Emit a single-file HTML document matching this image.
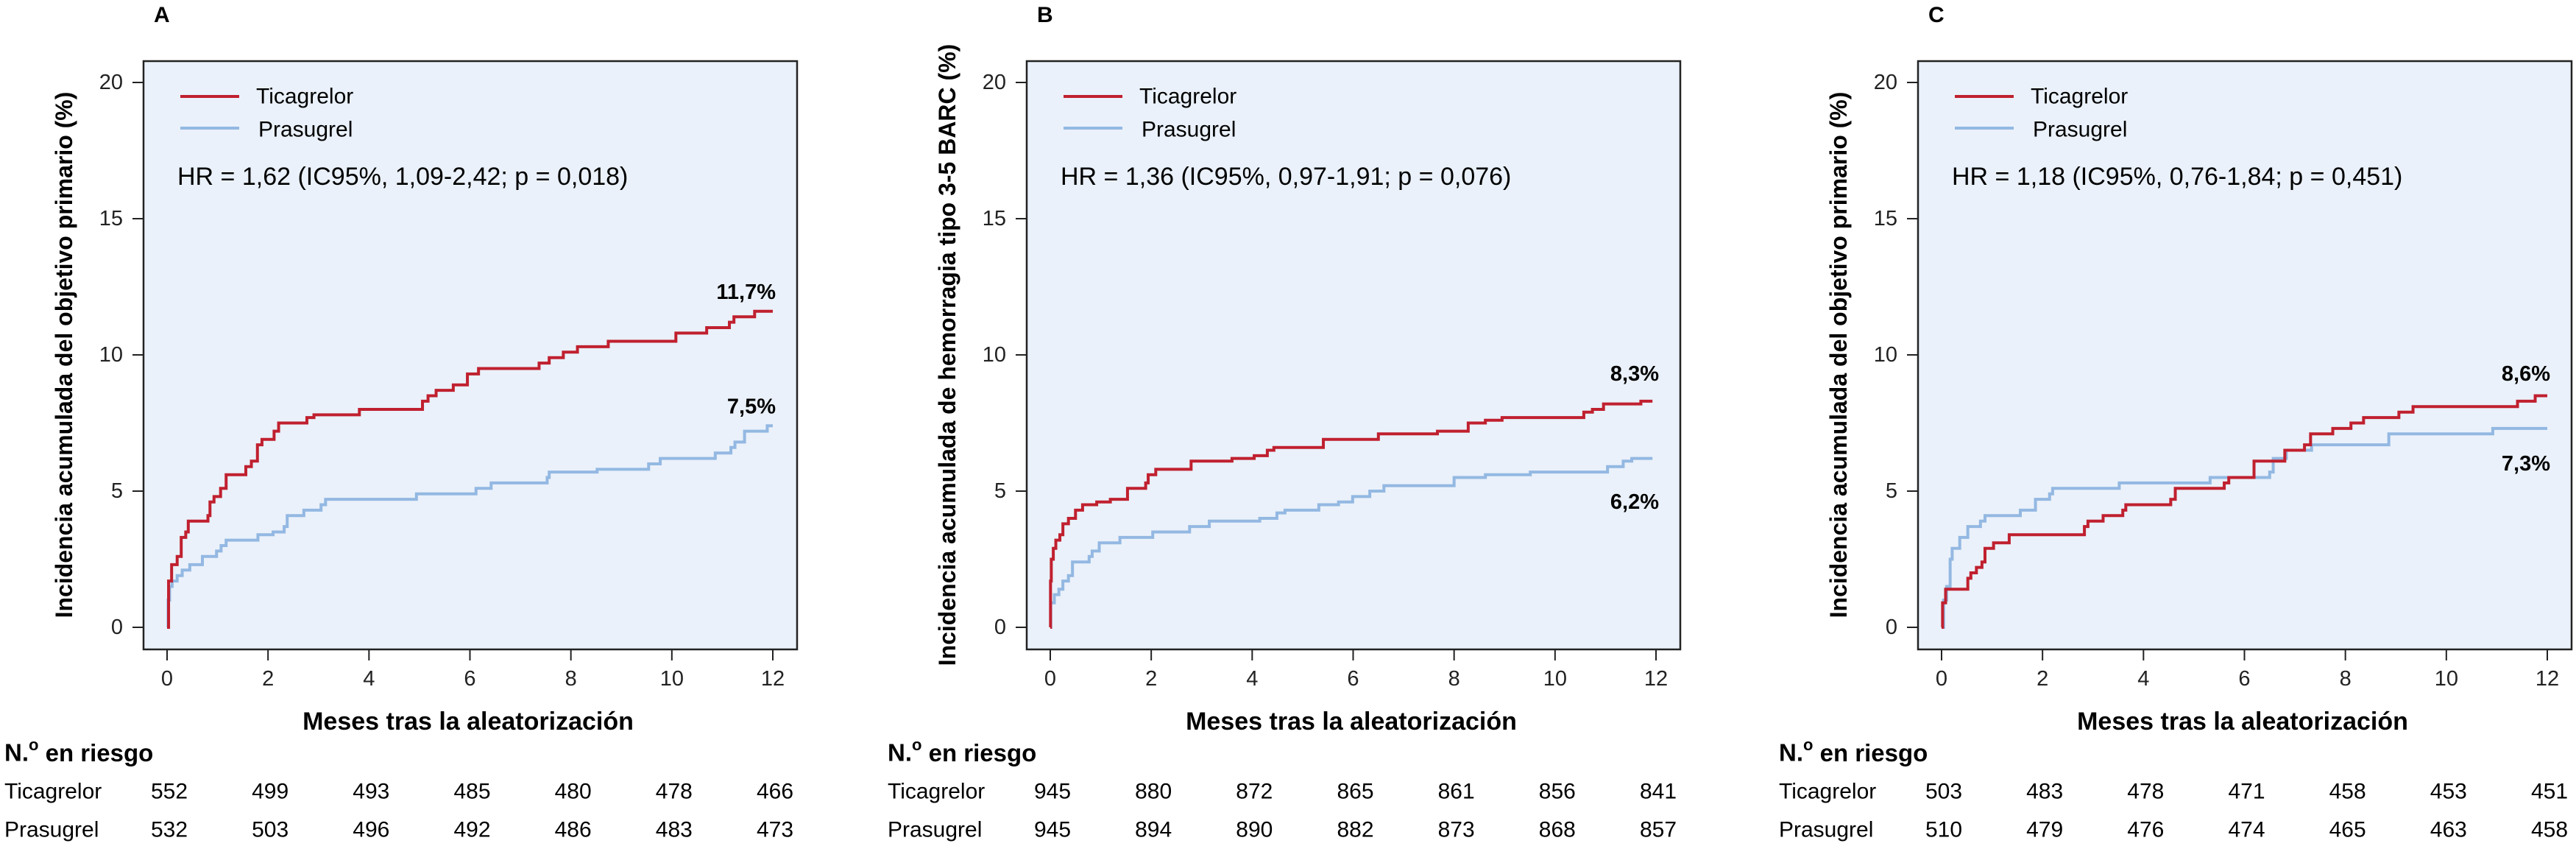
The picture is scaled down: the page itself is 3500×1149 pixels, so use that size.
<!DOCTYPE html>
<html><head><meta charset="utf-8">
<style>
html,body{margin:0;padding:0;background:#fff;}
svg{display:block;font-family:"Liberation Sans",Arial,sans-serif;}
</style></head>
<body>
<svg id="fig" width="3500" height="1149" viewBox="0 0 3500 1149" xmlns="http://www.w3.org/2000/svg"></svg>
<script>
// ---- data ----
const yTicks = [0, 5, 10, 15, 20];
const xTicks = [0, 2, 4, 6, 8, 10, 12];
const panelLetters = ["A", "B", "C"];
const yTitles = ["Incidencia acumulada del objetivo primario (%)", "Incidencia acumulada de hemorragia tipo 3-5 BARC (%)", "Incidencia acumulada del objetivo primario (%)"];
const hrTexts = ["HR = 1,62 (IC95%, 1,09-2,42; p = 0,018)", "HR = 1,36 (IC95%, 0,97-1,91; p = 0,076)", "HR = 1,18 (IC95%, 0,76-1,84; p = 0,451)"];

const aTicT = [0,0.03,0.09,0.20,0.28,0.37,0.42,0.81,0.85,0.93,1.06,1.17,1.56,1.67,1.79,1.88,2.12,2.21,2.77,2.91,3.81,5.06,5.17,5.33,5.67,5.95,6.17,7.37,7.57,7.85,8.13,8.74,10.08,10.69,11.14,11.23,11.64,12];
const aTicV = [0,1.7,2.3,2.6,3.3,3.5,3.9,4.1,4.6,4.8,5.1,5.6,5.9,6.1,6.7,6.9,7.2,7.5,7.7,7.8,8.0,8.3,8.5,8.7,8.9,9.3,9.5,9.7,9.9,10.1,10.3,10.5,10.8,11.0,11.2,11.4,11.6,11.6];
const aPraT = [0,0.02,0.05,0.10,0.20,0.30,0.45,0.70,0.98,1.07,1.17,1.80,2.10,2.32,2.38,2.71,3.05,3.14,4.94,6.12,6.42,7.53,7.57,8.52,9.54,9.77,10.86,11.17,11.25,11.44,11.89,12];
const aPraV = [0,1.0,1.5,1.7,1.9,2.1,2.3,2.6,2.8,3.0,3.2,3.4,3.5,3.7,4.1,4.3,4.5,4.7,4.9,5.1,5.3,5.5,5.7,5.8,6.0,6.2,6.4,6.6,6.8,7.2,7.4,7.4];

const bTicT = [0,0.005,0.02,0.06,0.11,0.19,0.25,0.36,0.50,0.64,0.92,1.19,1.53,1.89,1.94,2.09,2.79,3.60,4.04,4.30,4.43,5.41,6.50,7.67,8.28,8.62,8.95,10.57,10.74,10.96,11.70,11.93];
const bTicV = [0,1.7,2.5,2.9,3.2,3.4,3.8,4.0,4.3,4.5,4.6,4.7,5.1,5.3,5.6,5.8,6.1,6.2,6.3,6.5,6.6,6.9,7.1,7.2,7.5,7.6,7.7,7.9,8.0,8.2,8.3,8.3];
const bPraT = [0,0.01,0.08,0.17,0.25,0.36,0.44,0.77,0.83,0.97,1.38,2.03,2.76,3.15,4.15,4.49,4.65,5.32,5.71,5.99,6.33,6.61,8.00,8.62,9.51,11.04,11.35,11.52,11.93];
const bPraV = [0,0.9,1.2,1.4,1.7,1.9,2.4,2.6,2.8,3.1,3.3,3.5,3.7,3.9,4.0,4.2,4.3,4.5,4.6,4.8,5.0,5.2,5.5,5.6,5.7,5.9,6.1,6.2,6.2];

const cTicT = [0,0.02,0.08,0.52,0.58,0.69,0.80,0.86,1.03,1.34,2.83,2.90,3.20,3.59,3.65,4.54,4.63,5.60,5.69,6.19,6.80,7.19,7.31,7.75,8.11,8.36,9.06,9.34,11.41,11.76,12];
const cTicV = [0,0.9,1.4,1.8,2.0,2.2,2.4,2.9,3.1,3.4,3.7,3.9,4.1,4.3,4.5,4.7,5.1,5.3,5.5,6.1,6.5,6.7,7.1,7.3,7.5,7.7,7.9,8.1,8.3,8.5,8.5];
const cPraT = [0,0.04,0.10,0.17,0.21,0.36,0.52,0.77,0.86,1.56,1.86,2.14,2.20,3.52,5.32,6.50,6.57,6.83,7.33,8.86,10.92,12];
const cPraV = [0,1.0,1.5,2.5,2.9,3.3,3.7,3.9,4.1,4.3,4.7,4.9,5.1,5.3,5.5,5.7,6.2,6.5,6.7,7.1,7.3,7.3];

const endLabelsTic = ["11,7%", "8,3%", "8,6%"];
const endLabelsPra = ["7,5%", "6,2%", "7,3%"];
const endValTic = [12.3, 9.3, 9.3];
const endValPra = [8.1, 4.6, 6.0];

const riskTic = [[552,499,493,485,480,478,466],[945,880,872,865,861,856,841],[503,483,478,471,458,453,451]];
const riskPra = [[532,503,496,492,486,483,473],[945,894,890,882,873,868,857],[510,479,476,474,465,463,458]];

const ticT = [aTicT, bTicT, cTicT], ticV = [aTicV, bTicV, cTicV];
const praT = [aPraT, bPraT, cPraT], praV = [aPraV, bPraV, cPraV];

// ---- layout ----
const NS = "http://www.w3.org/2000/svg";
const svg = document.getElementById("fig");
const panelLefts = [195, 1395, 2606];
const TOP = 83, PW = 888, PH = 799;
const RED = "#c0202f", BLUE = "#93b8e2";

function mk(tag, attrs, parent, text) {
  const e = document.createElementNS(NS, tag);
  for (const k in attrs) e.setAttribute(k, attrs[k]);
  if (text !== undefined) e.textContent = text;
  (parent || svg).appendChild(e);
  return e;
}

for (let p = 0; p < 3; p++) {
  const L = panelLefts[p];
  const xs = m => L + 32 + m * (823 / 12);
  const ys = v => 852 - v * 37;
  const g = mk("g", {});
  
  

  const letter = mk("text", {x: L + 14, y: 30, "font-size": 30, "font-weight": "bold"}, g, panelLetters[p]);
  
  

  const bg = mk("rect", {x: L, y: TOP, width: PW, height: PH, fill: "#eaf1fa", stroke: "#222", "stroke-width": 2.5}, g);
  
  

  yTicks.forEach(t => {
    const tk = mk("line", {x1: L - 15, x2: L, y1: ys(t), y2: ys(t), stroke: "#222", "stroke-width": 2}, g);
    
    
    const tl = mk("text", {x: L - 28, y: ys(t), "font-size": 29, "text-anchor": "end", "dominant-baseline": "central", fill: "#222"}, g, t);
    
    
  });
  xTicks.forEach(t => {
    const tk = mk("line", {x1: xs(t), x2: xs(t), y1: TOP + PH, y2: TOP + PH + 15, stroke: "#222", "stroke-width": 2}, g);
    
    
    const tl = mk("text", {x: xs(t), y: 922, "font-size": 29, "text-anchor": "middle", "dominant-baseline": "central", fill: "#222"}, g, t);
    
    
  });

  const yt = mk("text", {x: 0, y: 0, "font-size": 32, "font-weight": "bold", "text-anchor": "middle", "dominant-baseline": "central",
    transform: `translate(${L - 108},482) rotate(-90)`}, g, yTitles[p]);
  
  

  const xt = mk("text", {x: L + PW / 2 - 3, y: 980, "font-size": 34, "font-weight": "bold", "text-anchor": "middle", "dominant-baseline": "central"}, g, "Meses tras la aleatorización");
  
  

  // legend
  const l1 = mk("line", {x1: L + 50, x2: L + 130, y1: 131, y2: 131, stroke: RED, "stroke-width": 4}, g);
  
  
  const t1 = mk("text", {x: L + 153, y: 131, "font-size": 30, "dominant-baseline": "central"}, g, "Ticagrelor");
  
  
  const l2 = mk("line", {x1: L + 50, x2: L + 130, y1: 174, y2: 174, stroke: BLUE, "stroke-width": 4}, g);
  
  
  const t2 = mk("text", {x: L + 156, y: 176, "font-size": 30, "dominant-baseline": "central"}, g, "Prasugrel");
  
  
  const hr = mk("text", {x: L + 46, y: 240, "font-size": 34, "dominant-baseline": "central"}, g, hrTexts[p]);
  
  

  // step curves
  function stepPath(T, V) {
    let d = `M${xs(T[0])},${ys(V[0])}`;
    for (let i = 1; i < T.length; i++) {
      d += ` H${xs(T[i])} V${ys(V[i])}`;
    }
    return d;
  }
  const cp = mk("path", {d: stepPath(praT[p], praV[p]), fill: "none", stroke: BLUE, "stroke-width": 4, "stroke-linejoin": "miter"}, g);
  
  
  const ct = mk("path", {d: stepPath(ticT[p], ticV[p]), fill: "none", stroke: RED, "stroke-width": 4, "stroke-linejoin": "miter"}, g);
  
  

  const e1 = mk("text", {x: xs(12) + 4, y: ys(endValTic[p]), "font-size": 29, "font-weight": "bold", "text-anchor": "end", "dominant-baseline": "central"}, g, endLabelsTic[p]);
  
  
  const e2 = mk("text", {x: xs(12) + 4, y: ys(endValPra[p]), "font-size": 29, "font-weight": "bold", "text-anchor": "end", "dominant-baseline": "central"}, g, endLabelsPra[p]);
  
  

  // risk table
  const rh = mk("text", {x: L - 189, y: 1022, "font-size": 33, "font-weight": "bold", "dominant-baseline": "central"}, g);
  
  
  rh.appendChild(document.createTextNode("N."));
  mk("tspan", {"font-size": 22, dy: -11}, rh, "o");
  mk("tspan", {dy: 11}, rh, " en riesgo");

  const rows = [["Ticagrelor", riskTic[p], 1075], ["Prasugrel", riskPra[p], 1127]];
  rows.forEach(r => {
    const lb = mk("text", {x: L - 189, y: r[2], "font-size": 30, "dominant-baseline": "central"}, g, r[0]);
    
    
    r[1].forEach((n, i) => {
      const c = mk("text", {x: xs(xTicks[i]) + 3, y: r[2], "font-size": 30, "text-anchor": "middle", "dominant-baseline": "central"}, g, n);
      
      
    });
  });
}
</script>
</body></html>
